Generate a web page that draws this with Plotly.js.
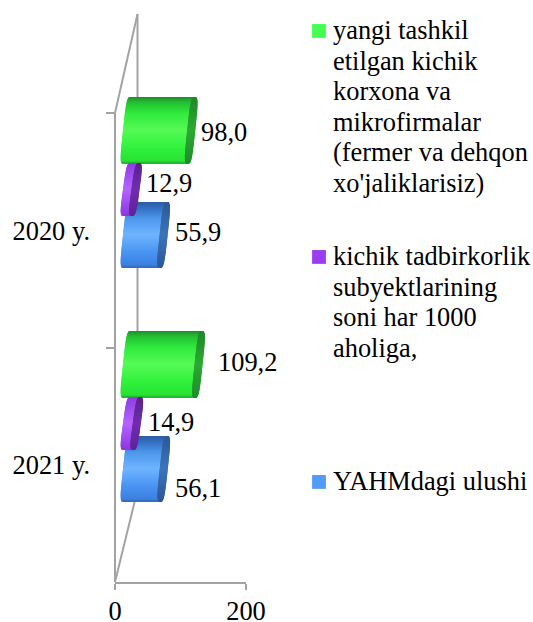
<!DOCTYPE html>
<html>
<head>
<meta charset="utf-8">
<script src="https://cdn.plot.ly/plotly-3.0.1.min.js"></script>
<style>html,body{margin:0;padding:0;background:#fff}</style>
</head>
<body>
<div id="chart" style="width:533px;height:622px"></div>
<script>
const categories = ['2020 y.', '2021 y.'];
const greenValues = [98.0, 109.2];
const purpleValues = [12.9, 14.9];
const blueValues = [55.9, 56.1];
const greenName = "yangi tashkil<br>etilgan kichik<br>korxona va<br>mikrofirmalar<br>(fermer va dehqon<br>xo'jaliklarisiz)";
const purpleName = "kichik tadbirkorlik<br>subyektlarining<br>soni har 1000<br>aholiga,";
const blueName = "YAHMdagi ulushi";

// ---- frame geometry (pixels of the 533x622 page)
const W = 533, H = 622, L = 115, R = 246, T = 113, B = 582, PLOT_TOP = 80;
const pxPerUnit = (R - L) / 200, catPx = (B - T) / 2, originPx = 127;
const FONT = 'Liberation Serif, Times New Roman, serif';
const FS = 26.4;
const GREY = '#a3a3a3';
const px2u = p => p / pxPerUnit;
const px2cat = p => p / catPx;
const ORIGIN = px2u(originPx - L); // the 3D floor starts a little right of the axis

function mix(stops, t) {
  for (let i = 1; i < stops.length; i++) {
    if (t <= stops[i][0]) {
      const a = stops[i - 1], b = stops[i], k = (t - a[0]) / (b[0] - a[0] || 1);
      return 'rgb(' + [0, 1, 2].map(j => Math.round(a[1][j] + (b[1][j] - a[1][j]) * k)).join(',') + ')';
    }
  }
  const c = stops[stops.length - 1][1];
  return 'rgb(' + c.join(',') + ')';
}

const series = [
  { name: blueName, values: blueValues, legend: 'legend3', top: -28, bottom: 37, solid: '#4f9bf5',
    body: [[0, [44, 92, 160]], [0.1, [52, 112, 196]], [0.25, [76, 150, 235]], [0.5, [110, 180, 255]], [0.8, [70, 145, 240]], [0.97, [60, 128, 222]], [1, [50, 105, 185]]],
    cap: [[0, [44, 88, 150]], [0.5, [60, 115, 185]], [1, [44, 88, 150]]] },
  { name: greenName, values: greenValues, legend: 'legend', top: -133, bottom: -67, solid: '#43ff4f',
    body: [[0, [30, 140, 42]], [0.08, [34, 190, 50]], [0.25, [48, 235, 60]], [0.5, [85, 250, 85]], [0.8, [45, 240, 58]], [0.97, [40, 225, 52]], [1, [32, 175, 45]]],
    cap: [[0, [30, 135, 40]], [0.5, [44, 170, 50]], [1, [30, 140, 42]]] },
  { name: purpleName, values: purpleValues, legend: 'legend2', top: -67, bottom: -15, solid: '#9b3cf0',
    body: [[0, [140, 60, 225]], [0.5, [180, 100, 255]], [1, [140, 55, 225]]],
    cap: [[0, [88, 34, 140]], [0.5, [112, 44, 175]], [1, [92, 36, 150]]] }
];

const SKEW = 3.5, ROUND = 4, BLUNT = 4;
const traces = [];
series.forEach(s => {
  const y = [], base = [], x = [], width = [], offset = [], color = [];
  const yCap = [], baseCap = [], xCap = [], widthCap = [], offsetCap = [], colorCap = [];
  const h = s.bottom - s.top;
  categories.forEach((c, ci) => {
    const lenPx = s.values[ci] * pxPerUnit;
    for (let p = 0; p < h; p++) {
      const t = (p + 0.5) / h, u = 2 * t - 1, sq = Math.pow(1 - Math.pow(Math.abs(u), BLUNT), 1 / BLUNT);
      const leftB = -SKEW * u - ROUND * sq, capIn = lenPx - SKEW * u - ROUND * sq, capOut = lenPx - SKEW * u + ROUND * sq;
      y.push(c); yCap.push(c);
      base.push(ORIGIN + px2u(leftB)); x.push(px2u(capIn - leftB + 0.5));
      baseCap.push(ORIGIN + px2u(capIn)); xCap.push(px2u(capOut - capIn));
      offset.push(px2cat(s.top + p)); offsetCap.push(px2cat(s.top + p));
      width.push(px2cat(1.3)); widthCap.push(px2cat(1.3));
      color.push(mix(s.body, t)); colorCap.push(mix(s.cap, t));
    }
  });
  const common = { type: 'bar', orientation: 'h', showlegend: false, hoverinfo: 'skip' };
  // the series itself: real values, carries the legend entry
  traces.push({ type: 'bar', orientation: 'h', name: s.name, legend: s.legend,
    x: s.values, y: categories, base: ORIGIN, width: px2cat(h * 0.4), offset: px2cat(s.top + h * 0.3),
    marker: { color: s.solid, line: { width: 0 } } });
  traces.push(Object.assign({}, common, { x, y, base, width, offset, marker: { color, line: { width: 0 } } }));
  traces.push(Object.assign({}, common, { x: xCap, y: yCap, base: baseCap, width: widthCap, offset: offsetCap, marker: { color: colorCap, line: { width: 0 } } }));
});

const fmt = v => v.toFixed(1).replace('.', ',');
const labelPlace = [
  { values: greenValues, dx: [8, 17], dy: [-98, -103] },
  { values: purpleValues, dx: [9, 9], dy: [-47, -43] },
  { values: blueValues, dx: [9, 9], dy: [2, 23] }
];
const annotations = [];
labelPlace.forEach(l => l.values.forEach((v, i) => annotations.push({
  xref: 'x', yref: 'y', x: v + ORIGIN, y: categories[i], text: fmt(v), showarrow: false,
  xanchor: 'left', yanchor: 'middle', xshift: l.dx[i], yshift: -l.dy[i],
  font: { family: FONT, size: FS, color: '#000' }
})));

const px = p => (p - L) / (R - L), py = p => (B - p) / (B - PLOT_TOP);
const wall = [
  [115, 113, 137.5, 14], [137.5, 14, 137.5, 490], [115, 582, 137.5, 490], [115, 113, 115, 582]
].map(a => ({ type: 'line', layer: 'below', xref: 'paper', yref: 'paper', x0: px(a[0]), y0: py(a[1]), x1: px(a[2]), y1: py(a[3]), line: { color: GREY, width: 2 } }));

const legendBase = { xanchor: 'left', yanchor: 'top', bgcolor: 'rgba(0,0,0,0)', borderwidth: 0, font: { family: FONT, size: FS, color: '#000' }, itemclick: false, itemdoubleclick: false };

const layout = {
  width: W, height: H, paper_bgcolor: '#fff', plot_bgcolor: 'rgba(0,0,0,0)', barmode: 'overlay',
  margin: { l: L, r: W - R, t: PLOT_TOP, b: H - B, pad: 0, autoexpand: false },
  font: { family: FONT, size: FS, color: '#000' },
  xaxis: { range: [0, 200], tickvals: [0, 200], ticktext: ['0', '200'], ticks: 'outside', ticklen: 6, tickwidth: 2, tickcolor: GREY, showline: true, linecolor: GREY, linewidth: 2, showgrid: false, zeroline: false, ticklabelstandoff: -2, tickfont: { family: FONT, size: FS, color: '#000' } },
  yaxis: { type: 'category', categoryarray: categories, categoryorder: 'array', range: [1.5, -0.5 - px2cat(T - PLOT_TOP)], tickson: 'boundaries', ticks: 'outside', ticklen: 8, tickwidth: 2, tickcolor: GREY, showline: false, showgrid: false, zeroline: false, ticklabelstandoff: 24, tickfont: { family: FONT, size: FS, color: '#000' } },
  legend: Object.assign({}, legendBase, { x: px(293), y: py(5) }),
  legend2: Object.assign({}, legendBase, { x: px(293), y: py(231) }),
  legend3: Object.assign({}, legendBase, { x: px(293), y: py(456) }),
  shapes: wall, annotations, showlegend: true
};

Plotly.newPlot('chart', traces, layout, { displayModeBar: false }).then(() => {
  // tighten the legend to the reference's line spacing and swatch placement
  document.querySelectorAll('.legendsymbols').forEach(g => {
    const tr = g.closest('.traces');
    const text = tr && tr.querySelector('text');
    if (!text) return;
    const lines = text.querySelectorAll('tspan.line');
    let firstBase = parseFloat(text.getAttribute('y')) || 0;
    if (lines.length) {
      firstBase = parseFloat(lines[0].getAttribute('y'));
      lines.forEach((l, i) => { l.setAttribute('dy', 0); l.setAttribute('y', firstBase + i * 30.6); });
    }
    const box = g.getBBox();
    const cy = box.y + box.height / 2;
    g.setAttribute('transform', 'translate(6,' + (firstBase - 8 - cy) + ')');
    g.querySelectorAll('path').forEach(p => {
      p.setAttribute('transform', (p.getAttribute('transform') || '') + ' scale(1.15)');
    });
  });
});
</script>
</body>
</html>
